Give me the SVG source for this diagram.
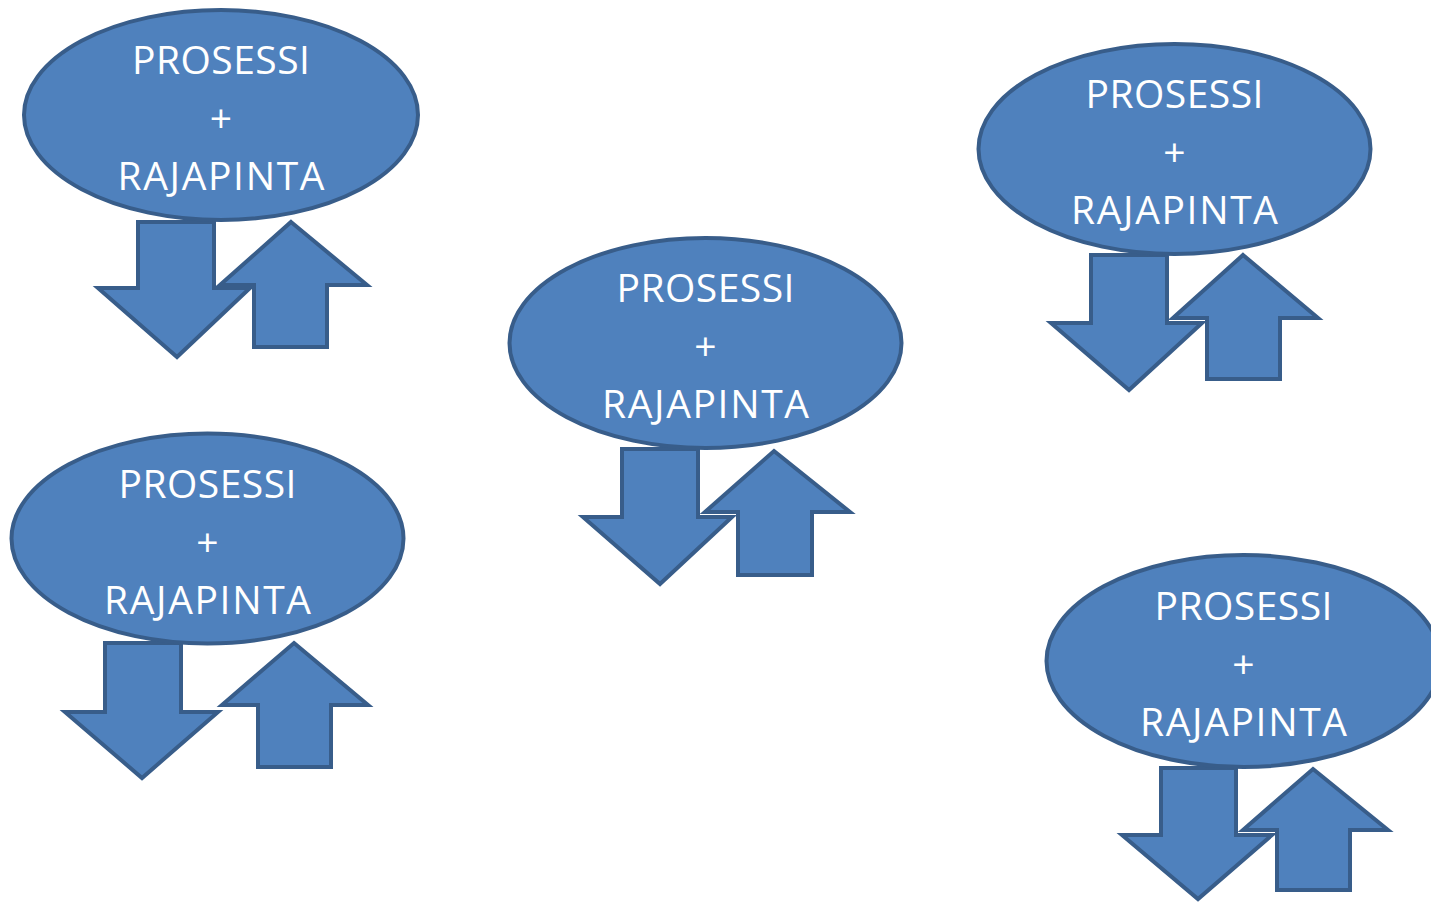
<svg xmlns="http://www.w3.org/2000/svg" width="1431" height="904" viewBox="0 0 1431 904">
<style>
.shape{fill:#4f81bd;stroke:#385d8a;stroke-width:4;stroke-linejoin:miter}
.lbl{fill:#ffffff;font-family:"Open Sans","Noto Sans","Liberation Sans",sans-serif;font-size:39px;text-anchor:middle}
</style>
<rect width="1431" height="904" fill="#ffffff"/>
<g id="node1">
<path class="shape" d="M138,222 L214,222 L214,288 L250,288 L177,357 L98,288 L138,288 Z"/>
<path class="shape" d="M291,222 L367,285 L327,285 L327,347 L254,347 L254,285 L220,285 Z"/>
<ellipse class="shape" cx="221" cy="115" rx="197" ry="105"/>
<text class="lbl" x="221" y="74" textLength="178" lengthAdjust="spacing">PROSESSI</text>
<text class="lbl" x="221" y="132">+</text>
<text class="lbl" x="221" y="190" textLength="207" lengthAdjust="spacing">RAJAPINTA</text>
</g>
<g id="node2">
<path class="shape" d="M1091,255 L1167,255 L1167,323 L1202,323 L1129,390 L1051,323 L1091,323 Z"/>
<path class="shape" d="M1243,255 L1318,318 L1280,318 L1280,379 L1207,379 L1207,318 L1173,318 Z"/>
<ellipse class="shape" cx="1174.5" cy="149" rx="196" ry="105"/>
<text class="lbl" x="1174.5" y="108" textLength="178" lengthAdjust="spacing">PROSESSI</text>
<text class="lbl" x="1174.5" y="166">+</text>
<text class="lbl" x="1174.5" y="224" textLength="207" lengthAdjust="spacing">RAJAPINTA</text>
</g>
<g id="node3">
<path class="shape" d="M622,449 L698,449 L698,517 L732,517 L660,584 L583,517 L622,517 Z"/>
<path class="shape" d="M774,451 L850,512 L812,512 L812,575 L738,575 L738,512 L705,512 Z"/>
<ellipse class="shape" cx="705.5" cy="343" rx="196" ry="105"/>
<text class="lbl" x="705.5" y="302" textLength="178" lengthAdjust="spacing">PROSESSI</text>
<text class="lbl" x="705.5" y="360">+</text>
<text class="lbl" x="705.5" y="418" textLength="207" lengthAdjust="spacing">RAJAPINTA</text>
</g>
<g id="node4">
<path class="shape" d="M105,643 L181,643 L181,712 L218,712 L142,778 L65,712 L105,712 Z"/>
<path class="shape" d="M294,643 L368,705 L331,705 L331,767 L258,767 L258,705 L222,705 Z"/>
<ellipse class="shape" cx="207.5" cy="538.5" rx="196" ry="105"/>
<text class="lbl" x="207.5" y="497.5" textLength="178" lengthAdjust="spacing">PROSESSI</text>
<text class="lbl" x="207.5" y="555.5">+</text>
<text class="lbl" x="207.5" y="613.5" textLength="207" lengthAdjust="spacing">RAJAPINTA</text>
</g>
<g id="node5">
<path class="shape" d="M1161,768 L1236,768 L1236,835 L1272,835 L1198,899 L1122,835 L1161,835 Z"/>
<path class="shape" d="M1313,769 L1388,830 L1350,830 L1350,890 L1277,890 L1277,830 L1243,830 Z"/>
<ellipse class="shape" cx="1243.5" cy="661" rx="197" ry="106"/>
<text class="lbl" x="1243.5" y="620" textLength="178" lengthAdjust="spacing">PROSESSI</text>
<text class="lbl" x="1243.5" y="678">+</text>
<text class="lbl" x="1243.5" y="736" textLength="207" lengthAdjust="spacing">RAJAPINTA</text>
</g>
<g id="connectors"></g>
</svg>
